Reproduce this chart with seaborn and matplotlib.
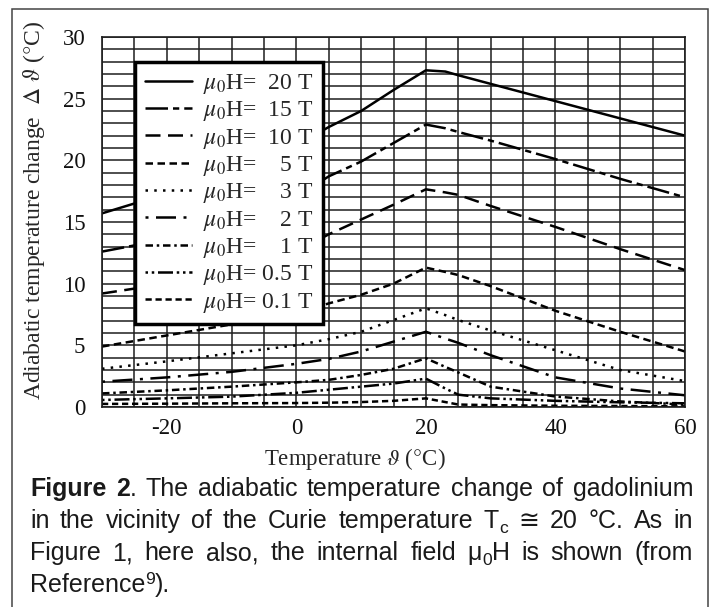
import numpy as np
import pandas as pd
import matplotlib
matplotlib.use("Agg")
import matplotlib.pyplot as plt
import seaborn as sns
from matplotlib.patches import Rectangle
from matplotlib.transforms import IdentityTransform

# temperature grid (deg C) shared by all curves
temps = [-30, -20, -10, 0, 5, 10, 15, 20, 23, 25, 30, 40, 50, 60]

# adiabatic temperature change (K) for each internal field
dt_20T = [15.7, 17.3, 19.2, 21.2, 22.7, 24.0, 25.7, 27.3, 27.2, 26.9, 26.2, 24.8, 23.4, 22.0]
dt_15T = [12.6, 13.6, 15.0, 17.0, 18.7, 19.9, 21.4, 22.9, 22.6, 22.3, 21.6, 20.1, 18.5, 17.0]
dt_10T = [9.2, 10.0, 11.0, 12.6, 14.0, 15.2, 16.4, 17.65, 17.4, 17.2, 16.3, 14.6, 12.8, 11.1]
dt_5T = [4.9, 5.8, 6.7, 7.6, 8.4, 9.1, 10.0, 11.3, 10.95, 10.7, 9.8, 7.8, 6.1, 4.5]
dt_3T = [3.1, 3.7, 4.35, 5.0, 5.5, 6.1, 7.05, 8.0, 7.45, 7.05, 6.2, 4.6, 3.0, 2.1]
dt_2T = [2.05, 2.4, 2.85, 3.5, 3.9, 4.5, 5.3, 6.1, 5.55, 5.2, 4.2, 2.4, 1.5, 0.95]
dt_1T = [1.1, 1.35, 1.65, 2.0, 2.2, 2.6, 3.1, 3.95, 3.25, 2.8, 1.65, 0.85, 0.45, 0.2]
dt_05T = [0.57, 0.7, 0.84, 1.15, 1.4, 1.65, 1.9, 2.3, 1.5, 1.0, 0.7, 0.5, 0.38, 0.3]
dt_01T = [0.25, 0.27, 0.3, 0.32, 0.35, 0.4, 0.5, 0.7, 0.4, 0.2, 0.15, 0.1, 0.08, 0.05]

series = [dt_20T, dt_15T, dt_10T, dt_5T, dt_3T, dt_2T, dt_1T, dt_05T, dt_01T]
labels = [r"$\mu_0$H=  20 T", r"$\mu_0$H=  15 T", r"$\mu_0$H=  10 T",
          r"$\mu_0$H=    5 T", r"$\mu_0$H=    3 T", r"$\mu_0$H=    2 T",
          r"$\mu_0$H=    1 T", r"$\mu_0$H= 0.5 T", r"$\mu_0$H= 0.1 T"]
dash_styles = [None, (9, 2, 2.5, 2), (6, 3), (3, 1.8), (1, 2.5),
               (1.2, 3, 8, 3), (3, 1.5, 1, 1.5), (1, 1.5, 1, 1.5, 6, 1.5), (2.5, 1.5)]

x_ticks = [-20, 0, 20, 40, 60]
y_ticks = [0, 5, 10, 15, 20, 25, 30]

caption_lines = [
    [("Figure 2", "bold"), (". The adiabatic temperature change of gadolinium", "normal")],
    [("in the vicinity of the Curie temperature T", "normal"), ("c", "sub"), (" \u2245 20 \u00b0C. As in", "normal")],
    [("Figure 1, here also, the internal field \u03bc", "normal"), ("0", "sub"), ("H is shown (from", "normal")],
    [("Reference", "normal"), ("9", "sup"), (").", "normal")],
]
caption_justify = [True, True, True, False]

sns.set_style("white")
plt.rcParams['font.family'] = ['Liberation Serif', 'DejaVu Serif']
plt.rcParams['mathtext.fontset'] = 'stix'
plt.rcParams['axes.unicode_minus'] = False

W, H = 710, 607
fig = plt.figure(figsize=(W / 100, H / 100), dpi=100)
ax = fig.add_axes([102 / W, 1 - 407 / H, 583 / W, 370 / H])

for vals, lab, dash in zip(series, labels, dash_styles):
    sns.lineplot(x=temps, y=vals, color='black', linewidth=1.8, ax=ax, label=lab)
    if dash is not None:
        ax.lines[-1].set_dashes(dash)

ax.set_xlim(-30, 60)
ax.set_ylim(0, 30)
ax.set_xticks(x_ticks)
ax.set_yticks(y_ticks)
ax.set_xticks(np.arange(-30, 61, 5), minor=True)
ax.set_yticks(np.arange(0, 31, 1), minor=True)
ax.grid(which='both', color='#1e1e1e', linewidth=1.1)
ax.set_axisbelow(True)
ax.tick_params(which='both', length=0, labelsize=16.5, colors='#111111')
ax.tick_params(axis='y', pad=12)
ax.tick_params(axis='x', pad=8)
for sp in ax.spines.values():
    sp.set_color('#1e1e1e')
    sp.set_linewidth(1.2)

ax.set_xlabel(r"Temperature $\vartheta$ ($\degree$C)", fontsize=16.5)
ax.set_ylabel(r"Adiabatic temperature change  $\Delta$ $\vartheta$ ($\degree$C)", fontsize=17)
ax.xaxis.set_label_coords(0.434, -0.105)
ax.yaxis.set_label_coords(-0.094, 0.53)

handles, labs = ax.get_legend_handles_labels()
leg = ax.legend(handles, labs, loc='upper left', bbox_to_anchor=(0.057, 0.932),
                borderaxespad=0, fontsize=17, handlelength=2.0, handletextpad=0.45,
                labelspacing=0.14, borderpad=0.42, frameon=True, fancybox=False,
                framealpha=1)
leg.get_frame().set_edgecolor('black')
leg.get_frame().set_linewidth(2.5)

# outer frame of the figure panel
fig.add_artist(Rectangle((12, -10), 696, H - 9 + 10, transform=IdentityTransform(),
                         fill=False, edgecolor='#444444', linewidth=1.1))

# caption, justified line by line
renderer = fig.canvas.get_renderer()
cap_fs = 18
cap_family = ['Liberation Sans', 'DejaVu Sans']


def text_width(s, size, weight):
    t = fig.text(0, 0, s, fontsize=size, fontweight=weight, family=cap_family,
                 transform=IdentityTransform())
    w = t.get_window_extent(renderer).width
    t.remove()
    return w


space_w = text_width("a a", cap_fs, 'normal') - text_width("aa", cap_fs, 'normal')
left, right = 30, 693
baselines = [496, 528, 560, 592]

for runs, just, base in zip(caption_lines, caption_justify, baselines):
    words = [[]]
    for s, kind in runs:
        parts = s.split(' ')
        for i, p in enumerate(parts):
            if i > 0:
                words.append([])
            if p:
                words[-1].append((p, kind))
    words = [w for w in words if w]
    pieces = []
    total = 0
    for w in words:
        wp = []
        for s, kind in w:
            size = cap_fs * (0.7 if kind in ('sub', 'sup') else 1)
            weight = 'bold' if kind == 'bold' else 'normal'
            tw = text_width(s, size, weight)
            wp.append((s, kind, size, weight, tw))
        pieces.append(wp)
        total += sum(p[4] for p in wp)
    gap = space_w
    if just and len(pieces) > 1:
        gap = (right - left - total) / (len(pieces) - 1)
    x = left
    y = H - base
    for wp in pieces:
        for s, kind, size, weight, tw in wp:
            dy = -0.2 * cap_fs * 100 / 72 if kind == 'sub' else (0.33 * cap_fs * 100 / 72 if kind == 'sup' else 0)
            fig.text(x, y + dy, s, fontsize=size, fontweight=weight, family=cap_family,
                     color='#1a1a1a', va='baseline', transform=IdentityTransform())
            x += tw
        x += gap

fig.savefig("out.png", dpi=100)
